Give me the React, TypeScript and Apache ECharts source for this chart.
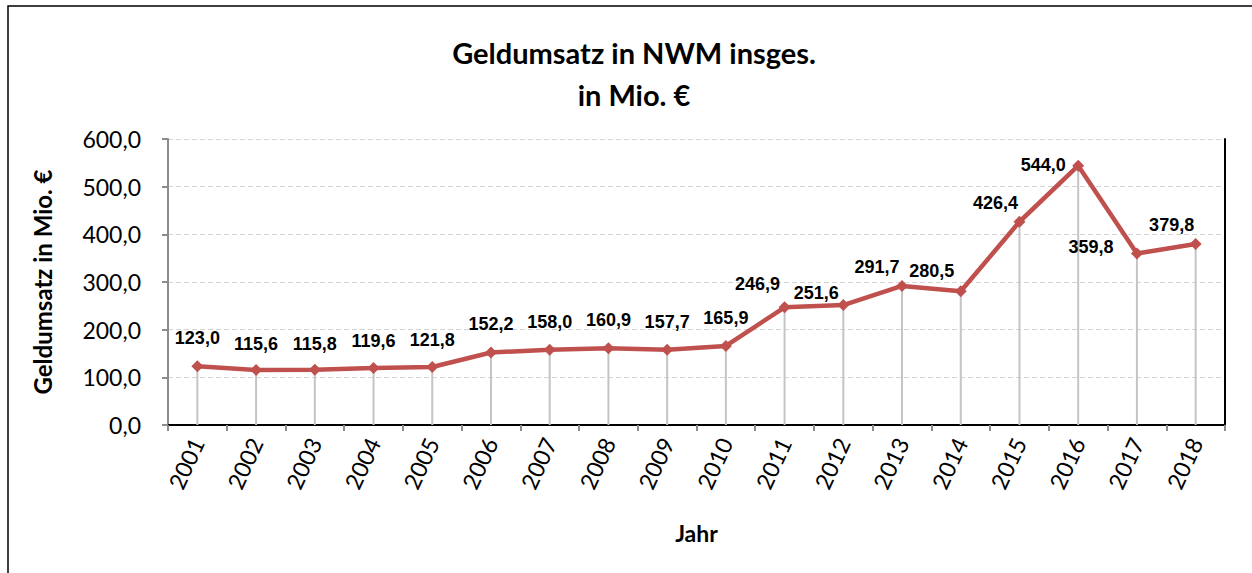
import React, { useEffect, useRef } from "react";
import * as echarts from "echarts";

const years = ["2001","2002","2003","2004","2005","2006","2007","2008","2009","2010","2011","2012","2013","2014","2015","2016","2017","2018"];
const umsatz = [123.0,115.6,115.8,119.6,121.8,152.2,158.0,160.9,157.7,165.9,246.9,251.6,291.7,280.5,426.4,544.0,359.8,379.8];
// label shifts (style only), relative to each point
const labelShift: number[][] = [
  [0,-28],[0,-26],[0,-26],[0,-27],[0,-27],[0,-28],[0,-28],[0,-28],[0,-28],[0,-28],
  [-27,-23],[-27,-12],[-25,-19],[-29,-20],[-24,-19],[-35,-1],[-46,-6],[-24,-19]
];
const titleText = "Geldumsatz in NWM insges.\nin Mio. €";
const yName = "Geldumsatz in Mio. €";
const xName = "Jahr";

const fmt = (v: number) => v.toFixed(1).replace(".", ",");

export default function App() {
  const ref = useRef<HTMLDivElement>(null);
  useEffect(() => {
    if (!ref.current) return;
    const chart = echarts.init(ref.current, null, { renderer: "svg" });
    const uiFont = "Lato";
    chart.setOption({
      animation: false,
      backgroundColor: "#ffffff",
      title: {
        text: titleText,
        left: 629,
        top: 26,
        textAlign: "center",
        textStyle: { fontFamily: uiFont, fontWeight: "bold", fontSize: 29, lineHeight: 42, color: "#000" },
      },
      graphic: [
        { type: "rect", shape: { x: 8, y: 6, width: 1300, height: 700 }, style: { fill: "none", stroke: "#000", lineWidth: 1.5 }, silent: true, z: 100 },
      ],
      grid: { left: 168, top: 139, right: 27, bottom: 148 },
      xAxis: [
        {
          type: "category",
          data: years,
          boundaryGap: true,
          axisLine: { lineStyle: { color: "#8c8c8c", width: 2 } },
          axisTick: { show: true, length: 6, alignWithLabel: false, lineStyle: { color: "#8c8c8c", width: 2 } },
          axisLabel: { rotate: 65, margin: 14, fontFamily: uiFont, fontSize: 23, color: "#000", interval: 0 },
          name: xName,
          nameLocation: "middle",
          nameGap: 96,
          nameTextStyle: { fontFamily: uiFont, fontWeight: "bold", fontSize: 23, color: "#000" },
        },
        {
          type: "category",
          data: years,
          position: "top",
          axisLine: { lineStyle: { color: "#000", width: 2 } },
          axisTick: { show: false },
          axisLabel: { show: false },
        },
      ],
      yAxis: [
        {
          type: "value",
          min: 0,
          max: 600,
          interval: 100,
          axisLine: { show: true, lineStyle: { color: "#8c8c8c", width: 2 } },
          axisTick: { show: true, length: 6, lineStyle: { color: "#8c8c8c", width: 2 } },
          axisLabel: { formatter: (v: number) => fmt(v), margin: 27, fontFamily: uiFont, fontSize: 23, color: "#000" },
          splitLine: { show: true, lineStyle: { color: "#d4d4d4", type: [5, 3], width: 1.2 } },
          name: yName,
          nameLocation: "middle",
          nameGap: 114,
          nameTextStyle: { fontFamily: uiFont, fontWeight: "bold", fontSize: 24, color: "#000" },
        },
        {
          type: "value",
          min: 0,
          max: 600,
          interval: 100,
          position: "right",
          axisLine: { show: true, lineStyle: { color: "#000", width: 2 } },
          axisTick: { show: false },
          axisLabel: { show: false },
          splitLine: { show: false },
        },
      ],
      series: [
        {
          type: "bar",
          data: umsatz,
          barWidth: 2,
          itemStyle: { color: "#c4c4c4" },
          silent: true,
          z: 1,
        },
        {
          type: "line",
          data: umsatz.map((v, i) => ({
            value: v,
            label: { offset: labelShift[i] },
          })),
          z: 5,
          lineStyle: { color: "#c0504d", width: 4.5 },
          itemStyle: { color: "#c0504d" },
          symbol: "diamond",
          symbolSize: 12,
          label: {
            show: true,
            position: "inside",
            formatter: (p: any) => fmt(p.value),
            fontFamily: "Liberation Sans",
            fontWeight: "bold",
            fontSize: 18,
            color: "#000",
          },
        },
      ],
    });
    return () => chart.dispose();
  }, []);
  return (
    <div
      ref={ref}
      style={{ position: "fixed", left: 0, top: 0, width: 1252, height: 573 }}
    />
  );
}
